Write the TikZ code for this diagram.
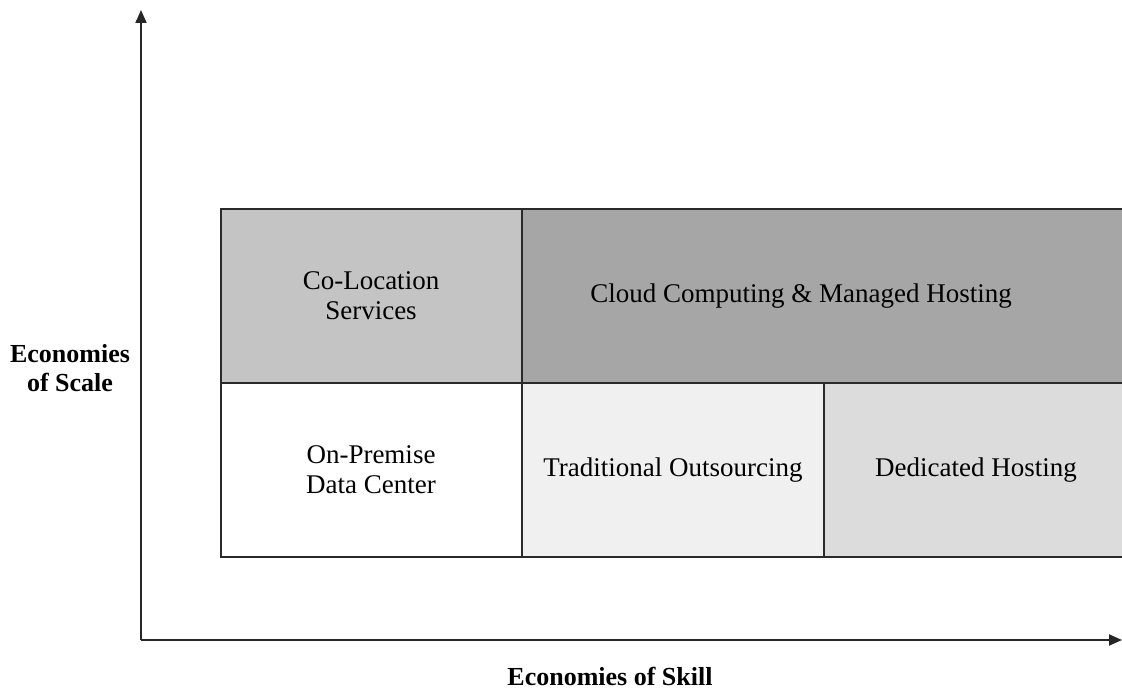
\documentclass[tikz,border=0pt]{standalone}
\usepackage{fontspec}
\setmainfont{Liberation Serif}
\usetikzlibrary{arrows.meta}
\definecolor{colo}{HTML}{C4C4C4}
\definecolor{cloud}{HTML}{A6A6A6}
\definecolor{trad}{HTML}{F0F0F0}
\definecolor{dedi}{HTML}{DCDCDC}
\definecolor{edge}{HTML}{2A2A2A}
\tikzset{
  cell/.style={fill=#1, draw=none},
  grid/.style={draw=edge, line width=1.8pt},
  axis/.style={draw=black!85, line width=1.8pt, -{Triangle[length=13pt,width=11pt]}},
  lbl/.style={font=\fontsize{27}{30}\selectfont, align=center, inner sep=0pt},
  axlbl/.style={font=\fontsize{26}{29}\selectfont\bfseries, align=center, inner sep=0pt}
}
\begin{document}
\begin{tikzpicture}[x=1pt,y=1pt]
\useasboundingbox (0,0) rectangle (1122,689);
% fills
\fill[cell=colo] (221,306) rectangle (522,480);
\fill[cell=cloud] (522,306) rectangle (1122,480);
\fill[cell=white] (221,132) rectangle (522,306);
\fill[cell=trad] (522,132) rectangle (824,306);
\fill[cell=dedi] (824,132) rectangle (1122,306);
% grid lines
\draw[grid] (1122,480) -- (221,480) -- (221,132) -- (1122,132);
\draw[grid] (221,306) -- (1122,306);
\draw[grid] (522,480) -- (522,132);
\draw[grid] (824,306) -- (824,132);
% axes
\coordinate (o) at (141,49);
\coordinate (ytip) at (141,679);
\coordinate (xtip) at (1122,49);
\draw[axis] (o) -- (ytip);
\draw[axis] (o) -- (xtip);
% labels
\node[lbl] (colo) at (371,393) {Co-Location\\Services};
\node[lbl] (cloud) at (801,393) {Cloud Computing \& Managed Hosting};
\node[lbl] (onprem) at (371,219) {On-Premise\\Data Center};
\node[lbl] (trad) at (673,219) {Traditional Outsourcing};
\node[lbl] (dedi) at (976,219) {Dedicated Hosting};
\node[axlbl] (scale) at (70,321) {Economies\\of Scale};
\node[axlbl] (skill) at (610,13) {Economies of Skill};
\end{tikzpicture}
\end{document}
